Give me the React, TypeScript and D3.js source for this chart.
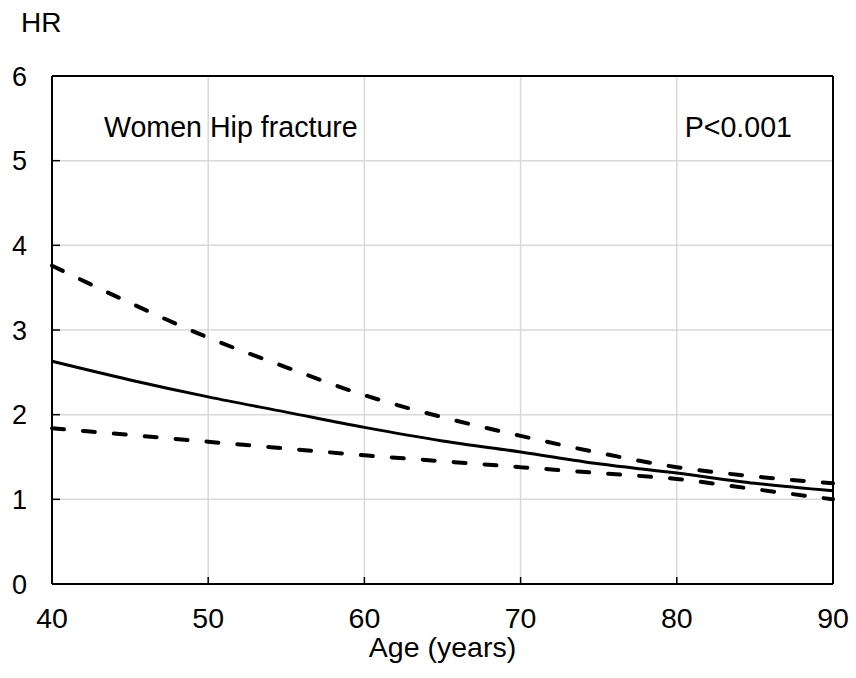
import React from "react";
import * as d3 from "d3";

const ages = [40, 45, 50, 55, 60, 65, 70, 75, 80, 85, 90];
const hrEstimate = [2.63, 2.41, 2.21, 2.03, 1.85, 1.69, 1.56, 1.42, 1.31, 1.19, 1.1];
const hrUpper = [3.76, 3.32, 2.91, 2.56, 2.23, 1.97, 1.75, 1.55, 1.38, 1.27, 1.19];
const hrLower = [1.84, 1.76, 1.68, 1.6, 1.52, 1.45, 1.38, 1.31, 1.24, 1.12, 1.0];
const xTicks = [40, 50, 60, 70, 80, 90];
const yTicks = [0, 1, 2, 3, 4, 5, 6];

const W = 856;
const H = 678;
const left = 52;
const right = 833;
const top = 76;
const bottom = 584;

export default function App() {
  const x = d3.scaleLinear().domain([40, 90]).range([left, right]);
  const y = d3.scaleLinear().domain([0, 6]).range([bottom, top]);
  const line = d3
    .line<number>()
    .x((_, i) => x(ages[i]))
    .y((d) => y(d))
    .curve(d3.curveMonotoneX);

  const font = "Liberation Sans, Arial, sans-serif";

  return (
    <svg
      width={W}
      height={H}
      style={{ position: "absolute", left: 0, top: 0, background: "#fff" }}
      fontFamily={font}
    >
      <rect x={0} y={0} width={W} height={H} fill="#fff" />
      {/* gridlines */}
      {yTicks.slice(1).map((t) => (
        <line key={"gy" + t} x1={left} x2={right} y1={y(t)} y2={y(t)} stroke="#d9d9d9" strokeWidth={1.5} />
      ))}
      {xTicks.slice(1).map((t) => (
        <line key={"gx" + t} x1={x(t)} x2={x(t)} y1={top} y2={bottom} stroke="#d9d9d9" strokeWidth={1.5} />
      ))}
      {/* ticks */}
      {yTicks.map((t) => (
        <line key={"ty" + t} x1={left} x2={left + 8} y1={y(t)} y2={y(t)} stroke="#000" strokeWidth={1.5} />
      ))}
      {xTicks.map((t) => (
        <line key={"tx" + t} x1={x(t)} x2={x(t)} y1={bottom} y2={bottom - 7} stroke="#000" strokeWidth={1.5} />
      ))}
      {/* axes frame */}
      <line x1={left} x2={left} y1={top} y2={bottom} stroke="#000" strokeWidth={2} />
      <line x1={left} x2={right} y1={bottom} y2={bottom} stroke="#000" strokeWidth={2} />
      <line x1={right} x2={right} y1={top} y2={bottom} stroke="#000" strokeWidth={2} />
      <line x1={left} x2={right} y1={top} y2={top} stroke="#000" strokeWidth={2} />
      {/* lines */}
      <path d={line(hrUpper) || ""} fill="none" stroke="#000" strokeWidth={4} strokeDasharray="12 19" strokeLinecap="round" />
      <path d={line(hrLower) || ""} fill="none" stroke="#000" strokeWidth={4} strokeDasharray="12 19" strokeLinecap="round" />
      <path d={line(hrEstimate) || ""} fill="none" stroke="#000" strokeWidth={3} />
      {/* tick labels */}
      {yTicks.map((t) => (
        <text key={"ly" + t} x={27} y={y(t)} dy="0.36em" textAnchor="end" fontSize={27}>
          {t}
        </text>
      ))}
      {xTicks.map((t) => (
        <text key={"lx" + t} x={x(t)} y={bottom + 44} textAnchor="middle" fontSize={28.5}>
          {t}
        </text>
      ))}
      <text x={(left + right) / 2} y={657} textAnchor="middle" fontSize={28.5}>
        Age (years)
      </text>
      <text x={21} y={32} fontSize={28}>
        HR
      </text>
      <text x={104} y={137} fontSize={28.6}>
        Women Hip fracture
      </text>
      <text x={792} y={137} textAnchor="end" fontSize={28.6}>
        P&lt;0.001
      </text>
    </svg>
  );
}
